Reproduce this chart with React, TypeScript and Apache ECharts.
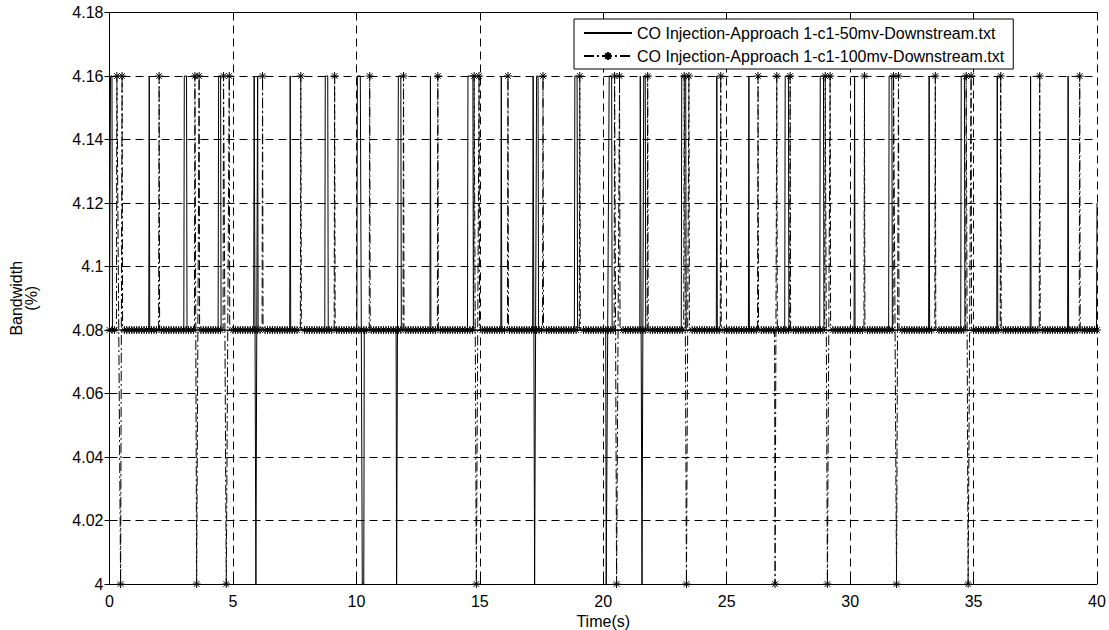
import React, { useEffect, useRef } from "react";
import * as echarts from "echarts";

const FONT = "'Liberation Sans', Arial, Helvetica, sans-serif";

const T_MIN = 0;
const T_MAX = 40;
const X_INTERVAL = 5;
const Y_MIN = 4;
const Y_MAX = 4.18;
const Y_INTERVAL = 0.02;

const NAME_50 = "CO Injection-Approach 1-c1-50mv-Downstream.txt";
const NAME_100 = "CO Injection-Approach 1-c1-100mv-Downstream.txt";

const BASE_50 = 4.08;
const BASE_100 = 4.08;

// excursions of the 50mv trace away from its baseline: [time, value]
const bursts50: [number, number][][] = [
  [[0.04, 4.16], [0.1, 4.16]],
  [[1.61, 4.16]],
  [[3.03, 4.16], [3.12, 4.16]],
  [[4.42, 4.16], [4.5, 4.16]],
  [[5.86, 4.16], [5.93, 4.0], [6.0, 4.16]],
  [[7.32, 4.16]],
  [[8.74, 4.16], [8.84, 4.16]],
  [[10.04, 4.16], [10.16, 4.16], [10.24, 4.0], [10.3, 4.0]],
  [[11.63, 4.0], [11.7, 4.16], [11.8, 4.16]],
  [[13.0, 4.16]],
  [[14.52, 4.16], [14.72, 4.16]],
  [[15.87, 4.16]],
  [[17.16, 4.16], [17.22, 4.0], [17.3, 4.16], [17.36, 4.16]],
  [[18.85, 4.16], [18.94, 4.16]],
  [[20.12, 4.0], [20.24, 4.16], [20.34, 4.16]],
  [[21.5, 4.16], [21.57, 4.0], [21.64, 4.16], [21.7, 4.16]],
  [[23.18, 4.16], [23.34, 4.16]],
  [[24.6, 4.16]],
  [[25.9, 4.16]],
  [[27.37, 4.16], [27.5, 4.16]],
  [[28.79, 4.16], [28.92, 4.16]],
  [[30.18, 4.16]],
  [[31.58, 4.16], [31.69, 4.16]],
  [[33.2, 4.16]],
  [[34.5, 4.16], [34.63, 4.16]],
  [[35.96, 4.16]],
  [[37.31, 4.16]],
  [[38.83, 4.16]],
  [[40, 4.12]],
];

// excursions of the 100mv trace away from its baseline: [time, value]
const bursts100: [number, number][][] = [
  [[0.3, 4.16], [0.45, 4.0], [0.51, 4.16]],
  [[2.01, 4.16]],
  [[3.46, 4.16], [3.53, 4.0], [3.63, 4.16]],
  [[4.62, 4.16], [4.73, 4.0], [4.85, 4.16]],
  [[6.2, 4.16]],
  [[7.75, 4.16]],
  [[9.12, 4.16]],
  [[10.54, 4.16]],
  [[11.91, 4.16]],
  [[13.3, 4.16]],
  [[14.77, 4.16], [14.86, 4.0], [14.97, 4.16]],
  [[16.14, 4.16]],
  [[17.56, 4.16]],
  [[19.05, 4.16]],
  [[20.46, 4.16], [20.54, 4.0], [20.66, 4.16]],
  [[21.8, 4.16]],
  [[23.28, 4.16], [23.37, 4.0], [23.47, 4.16]],
  [[24.76, 4.16]],
  [[26.27, 4.16]],
  [[26.96, 4.0], [27.03, 4.16]],
  [[27.57, 4.16]],
  [[28.99, 4.16], [29.08, 4.0], [29.19, 4.16]],
  [[30.58, 4.16]],
  [[31.76, 4.16], [31.88, 4.0], [31.96, 4.16]],
  [[33.45, 4.16]],
  [[34.7, 4.16], [34.78, 4.0], [34.9, 4.16]],
  [[36.1, 4.16]],
  [[37.68, 4.16]],
  [[39.3, 4.16]],
];

// sample period of the marked 100mv trace, and how far the edges of a burst sit from it
const STEP_100 = 0.1;
const CLEAR_100 = 0.06;
const PAD_100 = 0.02;
const PAD_50 = 0.02;

type Pt = { value: [number, number]; symbol?: string };

function buildTrace(
  bursts: [number, number][][],
  base: number,
  step: number,
  clear: number,
  pad: number
): Pt[] {
  const pts: Pt[] = [];
  const inBurst = (t: number) =>
    bursts.some((b) => t > b[0][0] - clear && t < b[b.length - 1][0] + clear);
  if (step > 0) {
    const n = Math.round((T_MAX - T_MIN) / step);
    for (let i = 0; i <= n; i++) {
      const t = +(T_MIN + i * step).toFixed(4);
      if (!inBurst(t)) pts.push({ value: [t, base] });
    }
  } else {
    pts.push({ value: [T_MIN, base] });
  }
  bursts.forEach((b) => {
    const s = b[0][0] - pad;
    if (s > T_MIN) pts.push({ value: [s, base], symbol: "none" });
    b.forEach((p) => pts.push({ value: p }));
    const e = b[b.length - 1][0] + pad;
    if (e < T_MAX) pts.push({ value: [e, base], symbol: "none" });
  });
  if (step <= 0) {
    const last = bursts[bursts.length - 1];
    if (last[last.length - 1][0] < T_MAX) pts.push({ value: [T_MAX, base] });
  }
  pts.sort((a, b) => a.value[0] - b.value[0]);
  return pts;
}

const ASTERISK =
  "path://M5 0L5 10M0 5L10 5M1.5 1.5L8.5 8.5M1.5 8.5L8.5 1.5";

export default function App() {
  const ref = useRef<HTMLDivElement>(null);

  useEffect(() => {
    if (!ref.current) return;
    const chart = echarts.init(ref.current, null, { renderer: "svg" });
    const data50 = buildTrace(bursts50, BASE_50, 0, 0, PAD_50);
    const data100 = buildTrace(bursts100, BASE_100, STEP_100, CLEAR_100, PAD_100);

    const axisLine = { show: true, lineStyle: { color: "#000", width: 1 } };
    const tick = { show: true, inside: true, length: 5, lineStyle: { color: "#000" } };
    const grid = {
      show: true,
      lineStyle: { color: "#000", width: 1, type: [8, 5] as any },
    };
    const labelStyle = { color: "#000", fontSize: 16, fontFamily: FONT };

    chart.setOption({
      animation: false,
      backgroundColor: "#fff",
      textStyle: { fontFamily: FONT },
      grid: {
        left: 109.5,
        right: 12,
        top: 12.5,
        bottom: 46,
        containLabel: false,
        outerBoundsMode: "none",
      },
      legend: {
        orient: "vertical",
        left: 574,
        top: 19,
        itemWidth: 48,
        itemHeight: 10,
        itemGap: 7,
        padding: [6, 9, 5, 9],
        borderColor: "#000",
        borderWidth: 1,
        borderRadius: 0,
        backgroundColor: "#fff",
        textStyle: { ...labelStyle },
        data: [
          {
            name: NAME_50,
            itemStyle: { opacity: 0, color: "rgba(0,0,0,0)", borderWidth: 0 },
          },
          { name: NAME_100 },
        ],
      },
      xAxis: [
        {
          type: "value",
          min: T_MIN,
          max: T_MAX,
          interval: X_INTERVAL,
          position: "bottom",
          axisLine,
          axisTick: tick,
          axisLabel: { ...labelStyle, margin: 9 },
          splitLine: grid,
          name: "Time(s)",
          nameLocation: "middle",
          nameGap: 24,
          nameTextStyle: { ...labelStyle },
        },
        {
          type: "value",
          min: T_MIN,
          max: T_MAX,
          interval: X_INTERVAL,
          position: "top",
          axisLine,
          axisTick: tick,
          axisLabel: { show: false },
          splitLine: { show: false },
        },
      ],
      yAxis: [
        {
          type: "value",
          min: Y_MIN,
          max: Y_MAX,
          interval: Y_INTERVAL,
          position: "left",
          axisLine,
          axisTick: tick,
          axisLabel: {
            ...labelStyle,
            margin: 6,
            formatter: (v: number) => String(+v.toFixed(2)),
          },
          splitLine: grid,
          name: "Bandwidth\n(%)",
          nameLocation: "middle",
          nameGap: 71,
          nameRotate: 90,
          nameTextStyle: { ...labelStyle, lineHeight: 15 },
        },
        {
          type: "value",
          min: Y_MIN,
          max: Y_MAX,
          interval: Y_INTERVAL,
          position: "right",
          axisLine,
          axisTick: tick,
          axisLabel: { show: false },
          splitLine: { show: false },
        },
      ],
      series: [
        {
          name: NAME_50,
          type: "line",
          xAxisIndex: 0,
          yAxisIndex: 0,
          data: data50,
          symbol: "none",
          showSymbol: false,
          lineStyle: { color: "#000", width: 1 },
          itemStyle: { color: "#000" },
          z: 2,
        },
        {
          name: NAME_100,
          type: "line",
          xAxisIndex: 0,
          yAxisIndex: 0,
          data: data100,
          symbol: ASTERISK,
          symbolSize: 8,
          showSymbol: true,
          showAllSymbol: true,
          lineStyle: { color: "#000", width: 1, type: [10, 3, 2, 3] },
          itemStyle: { color: "#000", borderColor: "#000", borderWidth: 1 },
          z: 3,
        },
      ],
    });
    return () => chart.dispose();
  }, []);

  return (
    <div
      ref={ref}
      style={{ position: "fixed", left: 0, top: 0, width: 1109, height: 630 }}
    />
  );
}
